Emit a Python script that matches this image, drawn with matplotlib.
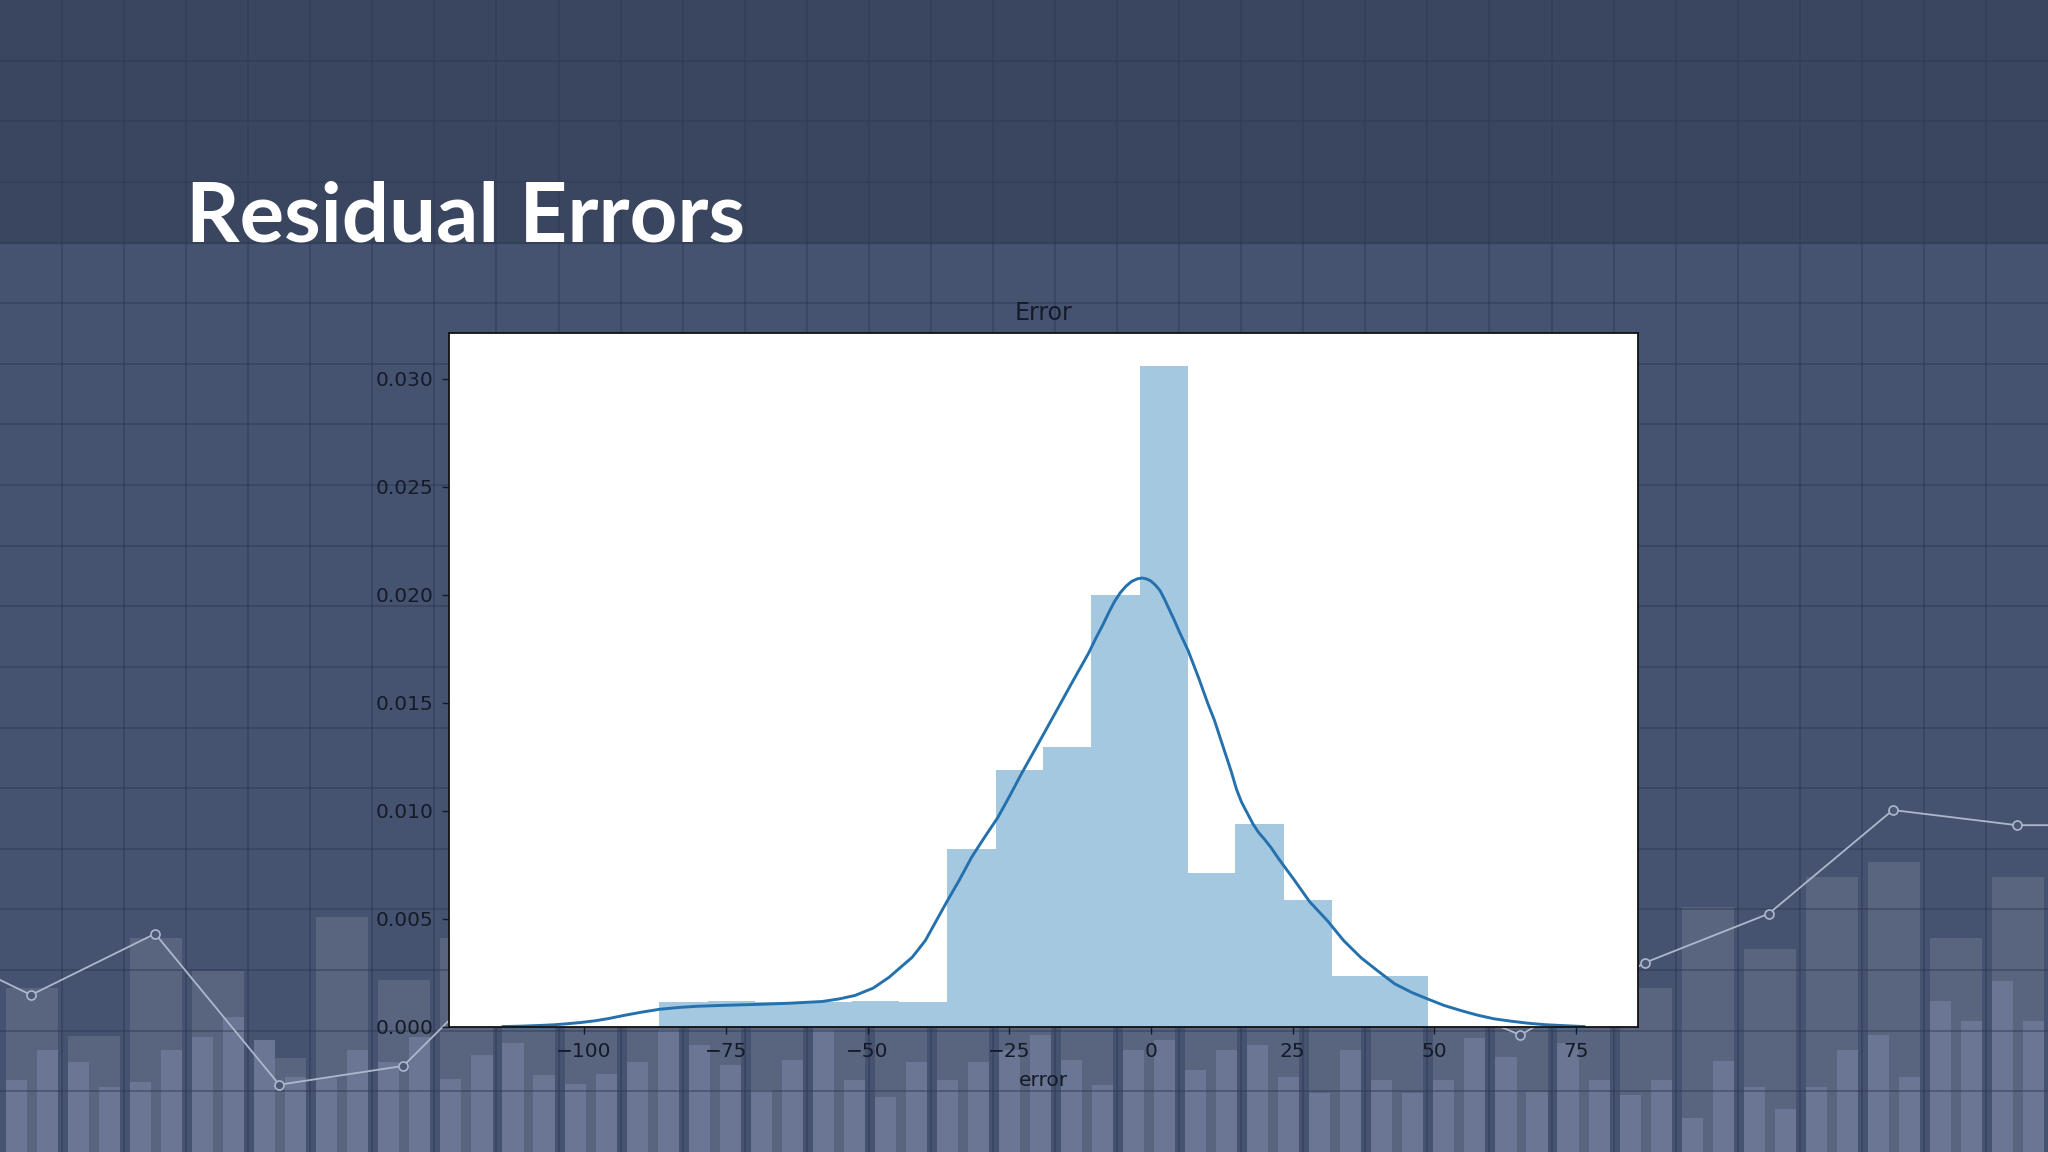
import numpy as np
import matplotlib
matplotlib.use("Agg")
import matplotlib.pyplot as plt

# ---------------- chart data ----------------
bin_edges = [-86.7, -78.2, -69.8, -61.3, -52.8, -44.4, -35.9, -27.4, -19.0,
             -10.5, -2.0, 6.5, 14.9, 23.4, 31.9, 40.3, 48.8]
bin_counts = [1, 1, 1, 1, 1, 1, 7, 10, 11, 17, 26, 6, 8, 5, 2, 2]

kde_x = [-114.3, -111, -108, -105.5, -103, -100.5, -98, -95.5, -93.1, -90,
         -86.7, -83, -80, -75.6, -69, -63.8, -58, -55, -52.2, -49, -46.2, -44,
         -42.1, -39.8, -37.9, -36, -33.8, -31.6, -29.3, -27, -24.9, -22.8,
         -19.9, -16.9, -14, -11, -9.7, -8.5, -7.4, -6.4, -5.4, -4.4, -3.4,
         -2.4, -1.6, -0.8, 0.0, 0.8, 1.6, 2.4, 3.1, 4.0, 5.0, 6.6, 8.5, 10.0,
         11.2, 12.2, 13.2, 14.2, 15.1, 16.0, 17.0, 18.0, 19.0, 20.0, 21.2,
         22.5, 25.3, 28, 31.2, 34, 37.1, 40, 43, 46, 48.8, 51.7, 54.7, 57.6,
         60.5, 63.5, 66.4, 69.4, 72.3, 76.4]
kde_y = [0.00002, 0.00004, 0.00007, 0.00010, 0.00015, 0.00021, 0.00029,
         0.00040, 0.00053, 0.00068, 0.00082, 0.00091, 0.00096, 0.00100,
         0.00105, 0.00110, 0.00118, 0.00130, 0.00146, 0.0018, 0.0023, 0.0028,
         0.00323, 0.0040, 0.0049, 0.0058, 0.0068, 0.00787, 0.0088, 0.0097,
         0.0107, 0.01174, 0.0131, 0.01452, 0.0159, 0.0173, 0.0180, 0.0186,
         0.0192, 0.0197, 0.0201, 0.02040, 0.02062, 0.02074, 0.02078, 0.02074,
         0.02064, 0.02045, 0.0202, 0.0198, 0.0194, 0.0189, 0.0183, 0.0174,
         0.0161, 0.0150, 0.0142, 0.0134, 0.0126, 0.0118, 0.0110, 0.0104,
         0.0099, 0.0094, 0.0090, 0.0087, 0.0083, 0.0078, 0.0068, 0.0058,
         0.0049, 0.0040, 0.0032, 0.0026, 0.0020, 0.0016, 0.0013, 0.0010,
         0.00076, 0.00055, 0.00038, 0.00027, 0.00018, 0.00011, 0.00007,
         0.00002]

x_ticks = [-100, -75, -50, -25, 0, 25, 50, 75]
y_ticks = [0.000, 0.005, 0.010, 0.015, 0.020, 0.025, 0.030]

slide_title = "Residual Errors"
chart_title = "Error"
x_label = "error"

# ---------------- decorative background data (grid units) ----------------
deco_back = [2.70, 1.91, 3.53, 2.99, 1.55, 3.88, 2.84, 3.53, 3.3, 2.9, 3.6,
             3.1, 2.8, 3.4, 3.0, 2.7, 3.5, 3.2, 2.9, 3.6, 3.0, 3.3, 2.8, 3.4,
             3.1, 2.9, 2.70, 4.04, 3.35, 4.54, 4.78, 3.53, 4.54]
deco_front_a = [1.19, 1.48, 1.15, 1.90, 1.85, 1.22, 1.48, 1.20, 1.80, 1.12,
                1.48, 1.77, 1.02, 2.01, 0.91, 1.19, 1.68, 1.52, 1.68, 1.35,
                1.77, 0.97, 1.19, 1.19, 1.57, 1.80, 0.94, 0.56, 1.07, 1.07,
                1.93, 2.49, 2.82]
deco_front_b = [1.68, 1.07, 1.68, 2.23, 1.24, 1.68, 1.90, 1.60, 1.27, 1.29,
                2.01, 1.44, 1.52, 1.19, 1.48, 1.48, 1.93, 1.11, 1.85, 1.68,
                1.24, 1.68, 0.97, 1.88, 0.99, 1.19, 1.19, 1.50, 0.71, 1.68,
                1.24, 2.16, 2.16]
deco_line_y = [3.58, 2.59, 3.60, 1.11, 1.42, 3.46, 3.0, 2.6, 3.3, 2.7, 2.9,
               3.2, 2.77, 1.93, 3.12, 3.93, 5.64, 5.39, 5.39]

# ---------------- figure ----------------
W, H = 2048, 1152
fig = plt.figure(figsize=(W / 100, H / 100), dpi=100)

n_cols, n_rows = 33, 19
bg = fig.add_axes([0, 0, 1, 1])
bg.set_xlim(0, n_cols)
bg.set_ylim(0, n_rows)
bg.axis("off")
bg.axhspan(0, 15, color="#465370", zorder=0)
bg.axhspan(15, n_rows, color="#3a4660", zorder=0)

cols = np.arange(n_cols)
bg.bar(cols + 0.516, deco_back, width=0.84, color="#59657f", zorder=1, linewidth=0)
bg.bar(cols + 0.266, deco_front_a, width=0.34, color="#6a7693", zorder=2, linewidth=0)
bg.bar(cols + 0.766, deco_front_b, width=0.34, color="#6a7693", zorder=2, linewidth=0)

for i in range(1, n_cols):
    bg.axvline(i, color="#2c3650", alpha=0.55, lw=1.1, zorder=3)
for j in range(1, n_rows):
    bg.axhline(j, color="#2c3650", alpha=0.55, lw=1.1, zorder=3)

line_x = np.arange(-1.5, n_cols + 2, 2)
bg.plot(line_x, deco_line_y, color="#aeb7cb", lw=1.3, marker="o", ms=6.5,
        mfc="#4a5775", mec="#aeb7cb", mew=1.2, zorder=4)

fig.text(186 / W, 1 - 241 / H, slide_title, fontsize=60, fontweight="bold",
         color="white", family=["Lato", "DejaVu Sans"], ha="left", va="baseline")

# ---------------- main chart ----------------
ax = fig.add_axes([449 / W, 1 - 1027 / H, (1638 - 449) / W, (1027 - 333) / H])
ax.set_facecolor("white")
ax.hist(bin_edges[:-1], bins=bin_edges, weights=bin_counts, density=True,
        color="#1f77b4", alpha=0.4, linewidth=0)
ax.plot(kde_x, kde_y, color="#2471ad", lw=2.1, solid_joinstyle="round")

txt = "#151a28"
ax.set_xticks(x_ticks)
ax.set_yticks(y_ticks)
ax.set_yticklabels([f"{v:.3f}" for v in y_ticks])
ax.tick_params(direction="out", length=5, width=1, colors=txt, labelsize=14.5,
               pad=6)
for s in ax.spines.values():
    s.set_color("#111111")
    s.set_linewidth(1.3)
ax.set_title(chart_title, fontsize=17, color=txt, pad=9)
ax.set_xlabel(x_label, fontsize=14.5, color=txt, labelpad=7)

fig.savefig("out.png", dpi=100)
